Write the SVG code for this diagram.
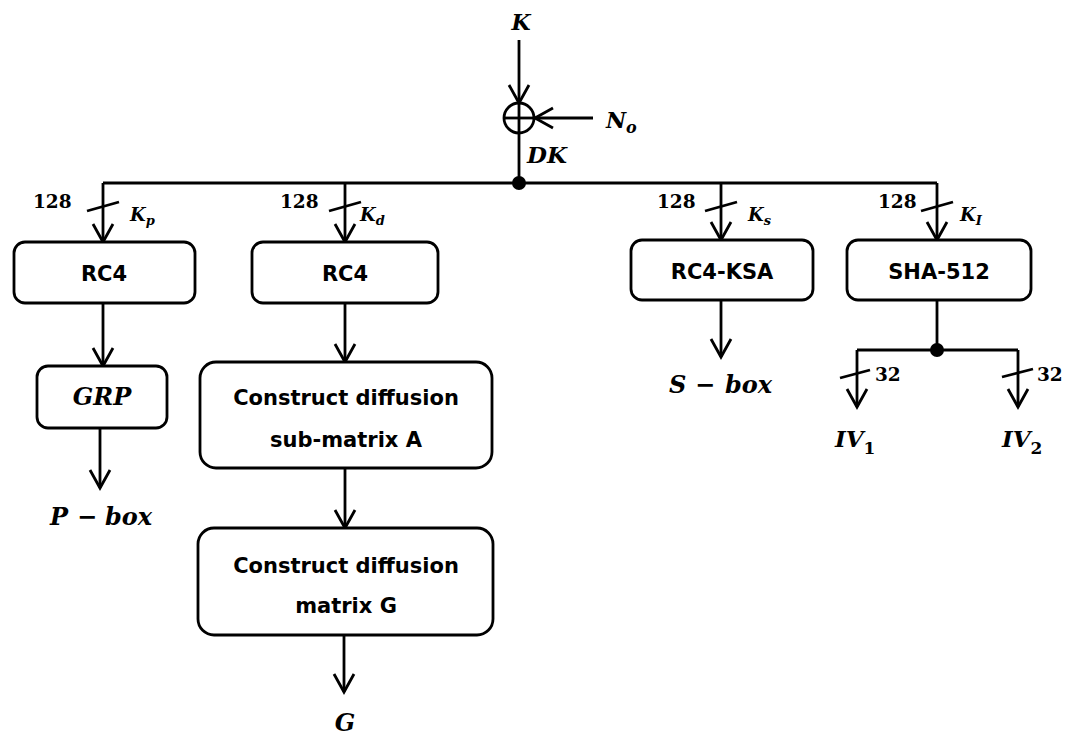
<svg xmlns="http://www.w3.org/2000/svg" width="1067" height="738" viewBox="0 0 1067 738">
<defs>
<style>
.ln{stroke:#000;stroke-width:2.8;fill:none}
.bx{stroke:#000;stroke-width:2.8;fill:#fff}
.arr{marker-end:url(#ah)}
.sans{font-family:"DejaVu Sans","Liberation Sans",sans-serif;font-weight:bold;font-size:21px;fill:#000;text-anchor:middle}
.math{font-family:"DejaVu Serif","Liberation Serif",serif;font-weight:bold;font-style:italic;fill:#000}
.num{font-family:"DejaVu Serif","Liberation Serif",serif;font-weight:bold;font-size:18.5px;fill:#000}
.up{font-style:normal}
</style>
<marker id="ah" markerUnits="userSpaceOnUse" markerWidth="24" markerHeight="24" orient="auto" overflow="visible" refX="0" refY="0">
<path d="M-18,-10 L0,0 L-18,10" fill="none" stroke="#000" stroke-width="2.8"/>
</marker>
</defs>
<rect width="1067" height="738" fill="#fff"/>

<g id="connectors">
<line class="ln arr" x1="519" y1="40" x2="519" y2="103"/>
<line class="ln arr" x1="593" y1="118" x2="535" y2="118"/>
<line class="ln" x1="519" y1="133" x2="519" y2="183"/>
<line class="ln" x1="103" y1="183" x2="937" y2="183"/>
<line class="ln arr" x1="103" y1="183" x2="103" y2="242"/>
<line class="ln arr" x1="345" y1="183" x2="345" y2="242"/>
<line class="ln arr" x1="721" y1="183" x2="721" y2="240"/>
<line class="ln arr" x1="937" y1="183" x2="937" y2="240"/>
<line class="ln" x1="87" y1="211" x2="119" y2="202"/>
<line class="ln" x1="329" y1="211" x2="361" y2="202"/>
<line class="ln" x1="705" y1="211" x2="737" y2="202"/>
<line class="ln" x1="921" y1="211" x2="953" y2="202"/>
<line class="ln arr" x1="103" y1="303" x2="103" y2="366"/>
<line class="ln arr" x1="100" y1="428" x2="100" y2="488"/>
<line class="ln arr" x1="345" y1="303" x2="345" y2="362"/>
<line class="ln arr" x1="345" y1="468" x2="345" y2="528"/>
<line class="ln arr" x1="344" y1="635" x2="344" y2="692"/>
<line class="ln arr" x1="721" y1="300" x2="721" y2="357"/>
<line class="ln" x1="937" y1="300" x2="937" y2="350"/>
<line class="ln" x1="857" y1="350" x2="1018" y2="350"/>
<line class="ln arr" x1="857" y1="350" x2="857" y2="407"/>
<line class="ln arr" x1="1018" y1="350" x2="1018" y2="407"/>
<line class="ln" x1="840" y1="378" x2="870" y2="370"/>
<line class="ln" x1="1002" y1="377" x2="1033" y2="369"/>
<circle cx="519" cy="183" r="7" fill="#000"/>
<circle cx="937" cy="350" r="7" fill="#000"/>
</g>

<g id="xor">
<circle class="ln" cx="519" cy="118" r="15"/>
<line class="ln" x1="519" y1="103" x2="519" y2="133"/>
<line class="ln" x1="504" y1="118" x2="534" y2="118"/>
</g>

<g id="labels">
<text class="math" x="521" y="30" font-size="22" text-anchor="middle">K</text>
<text class="math" x="606" y="128" font-size="22">N<tspan font-size="16" dy="5">o</tspan></text>
<text class="math" x="527" y="163" font-size="23">DK</text>
<text class="num" x="33" y="208">128</text>
<text class="num" x="280" y="208">128</text>
<text class="num" x="657" y="208">128</text>
<text class="num" x="878" y="208">128</text>
<text class="math" x="130" y="221" font-size="18">K<tspan font-size="13" dy="4">p</tspan></text>
<text class="math" x="360" y="221" font-size="18">K<tspan font-size="13" dy="4">d</tspan></text>
<text class="math" x="748" y="221" font-size="18">K<tspan font-size="13" dy="4">s</tspan></text>
<text class="math" x="960" y="221" font-size="18">K<tspan font-size="13" dy="4">I</tspan></text>
<text class="num" x="875" y="381">32</text>
<text class="num" x="1037" y="381">32</text>
</g>

<g id="rc4a">
<rect class="bx" x="14" y="242" width="181" height="61" rx="11"/>
<text class="sans" x="104" y="281">RC4</text>
</g>
<g id="rc4b">
<rect class="bx" x="252" y="242" width="186" height="61" rx="11"/>
<text class="sans" x="345" y="281">RC4</text>
</g>
<g id="rc4ksa">
<rect class="bx" x="631" y="240" width="182" height="60" rx="11"/>
<text class="sans" x="722" y="279">RC4-KSA</text>
</g>
<g id="sha512">
<rect class="bx" x="847" y="240" width="184" height="60" rx="11"/>
<text class="sans" x="939" y="279">SHA-512</text>
</g>
<g id="grp">
<rect class="bx" x="37" y="366" width="130" height="62" rx="11"/>
<text class="math" x="102" y="405" font-size="24" text-anchor="middle">GRP</text>
</g>
<g id="pbox">
<text class="math" x="50" y="525" font-size="24">P<tspan x="77">−</tspan><tspan x="105">box</tspan></text>
</g>
<g id="subA">
<rect class="bx" x="200" y="362" width="292" height="106" rx="16"/>
<text class="sans" x="346" y="405">Construct diffusion</text>
<text class="sans" x="346" y="447">sub-matrix A</text>
</g>
<g id="matG">
<rect class="bx" x="198" y="528" width="295" height="107" rx="16"/>
<text class="sans" x="346" y="573">Construct diffusion</text>
<text class="sans" x="346" y="613">matrix G</text>
</g>
<g id="gout">
<text class="math" x="345" y="731" font-size="24" text-anchor="middle">G</text>
</g>
<g id="sbox">
<text class="math" x="669" y="393" font-size="24">S<tspan x="695">−</tspan><tspan x="725">box</tspan></text>
</g>
<g id="iv1">
<text class="math" x="835" y="447" font-size="23">IV<tspan class="up" font-size="17" dy="7">1</tspan></text>
</g>
<g id="iv2">
<text class="math" x="1002" y="447" font-size="23">IV<tspan class="up" font-size="17" dy="7">2</tspan></text>
</g>
</svg>
